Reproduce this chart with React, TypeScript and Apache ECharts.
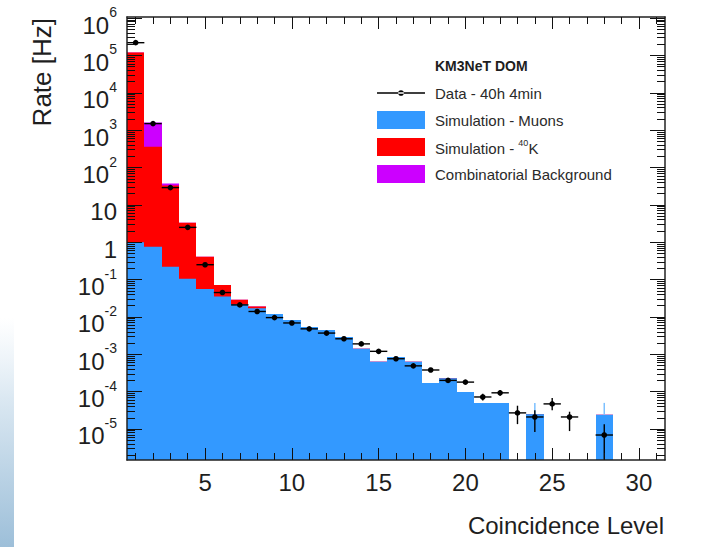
import React, { useEffect, useRef } from 'react';
import * as echarts from 'echarts';

// ---------- data ----------
const bins = [1, 2, 3, 4, 5, 6, 7, 8, 9, 10, 11, 12, 13, 14, 15, 16, 17, 18, 19, 20, 21, 22, 23, 24, 25, 26, 27, 28, 29, 30, 31];
const muonRate = [1.0, 0.76, 0.22, 0.105, 0.056, 0.035, 0.022, 0.017, 0.012, 0.0083, 0.0054, 0.0045, 0.0029, 0.0014, 0.00063, 0.00085, 0.00063, 0.00017, 0.00023, 0.000098, 0.00005, 0.00005, 0, 0.000025, 0, 0, 0, 0.000024, 0, 0, 0];
const k40Rate = [120000, 362, 33, 3.2, 0.35, 0.037, 0.007, 0.002, 0, 0, 0, 0, 0, 0, 0, 0, 0, 0, 0, 0, 0, 0, 0, 0, 0, 0, 0, 0, 0, 0, 0];
const combRate = [0, 1240, 4, 0, 0, 0, 0, 0, 0, 0, 0, 0, 0, 0, 0, 0, 0, 0, 0, 0, 0, 0, 0, 0, 0, 0, 0, 0, 0, 0, 0];
const muonErrHigh = [null, null, null, null, null, null, null, null, null, null, null, null, null, null, null, null, null, null, null, null, null, null, null, 0.00005, null, null, null, 0.00005, null, null, null];
const dataRate = [220000, 1500, 29, 2.5, 0.25, 0.045, 0.021, 0.014, 0.0096, 0.0069, 0.0048, 0.0037, 0.0026, 0.0019, 0.0012, 0.00076, 0.00049, 0.00038, 0.0002, 0.00018, 0.000072, 0.000093, 0.000027, 0.000021, 0.000047, 0.000021, null, 0.0000069, null, null, null];
const dataErrLow = [null, null, null, null, null, null, null, null, null, null, null, null, null, null, null, null, null, null, null, null, 0.000058, 0.000078, 0.0000135, 0.0000083, 0.000032, 0.0000088, null, 1e-8, null, null, null];
const dataErrHigh = [null, null, null, null, null, null, null, null, null, null, null, null, null, null, null, null, null, null, null, null, 0.000088, 0.00011, 0.000042, 0.000032, 0.000068, 0.000029, null, 0.0000135, null, null, null];

const xMajorTicks = [5, 10, 15, 20, 25, 30];
const xMinorTicks = bins;
const yDecadeExponents = [-5, -4, -3, -2, -1, 0, 1, 2, 3, 4, 5, 6];

const SERIES_DATA = 'Data - 40h 4min';
const SERIES_MUON = 'Simulation - Muons';
const SERIES_K40 = 'Simulation - 40K';
const SERIES_COMB = 'Combinatorial Background';

// ---------- layout / style ----------
const X_MIN = 0.5;
const X_MAX = 31.5;
const Y_MIN = -5.83;
const Y_MAX = 6.03;
const FONT = '"Liberation Sans", Arial, Helvetica, sans-serif';
const TXT = '#1e1e1e';
const C_MUON = '#3399ff';
const C_K40 = '#ff0000';
const C_COMB = '#cc00ff';

const lg = (v: number) => Math.log10(v);

const yMinorTicks: number[] = [];
for (let n = -6; n <= 6; n++) {
  for (let k = 2; k <= 9; k++) {
    const t = n + Math.log10(k);
    if (t > Y_MIN && t < Y_MAX) yMinorTicks.push(t);
  }
}

function App() {
  const ref = useRef<HTMLDivElement>(null);

  useEffect(() => {
    if (!ref.current) return;
    const chart = echarts.init(ref.current, null, { renderer: 'svg' });

    const redTop = bins.map((_, i) => muonRate[i] + k40Rate[i]);
    const purpleTop = bins.map((_, i) => redTop[i] + combRate[i]);

    const histData = (tops: number[], errs?: (number | null)[]) =>
      bins
        .map((b, i) => (tops[i] > 0 ? [b, lg(tops[i]), errs && errs[i] ? lg(errs[i] as number) : lg(tops[i])] : null))
        .filter((d) => d !== null);

    const histRender = (color: string) => (params: any, api: any) => {
      const x = api.value(0);
      const v = api.value(1);
      const e = api.value(2);
      const tl = api.coord([x - 0.5, v]);
      const br = api.coord([x + 0.5, Y_MIN]);
      const x0 = Math.round(tl[0]);
      const x1 = Math.round(br[0]);
      const children: any[] = [
        { type: 'rect', shape: { x: x0, y: tl[1], width: x1 - x0, height: br[1] - tl[1] }, style: { fill: color } },
      ];
      if (e > v) {
        const pe = api.coord([x, e]);
        const pc = api.coord([x, v]);
        children.push({ type: 'line', shape: { x1: pc[0], y1: pc[1], x2: pe[0], y2: pe[1] }, style: { stroke: '#7cc0ff', lineWidth: 1.5 } });
      }
      return { type: 'group', children };
    };

    const dataPoints = bins
      .map((b, i) =>
        dataRate[i] != null
          ? [
              b,
              lg(dataRate[i] as number),
              dataErrLow[i] != null ? lg(dataErrLow[i] as number) : lg(dataRate[i] as number),
              dataErrHigh[i] != null ? lg(dataErrHigh[i] as number) : lg(dataRate[i] as number),
            ]
          : null
      )
      .filter((d) => d !== null);

    const dataRender = (params: any, api: any) => {
      const x = api.value(0);
      const v = api.value(1);
      const lo = Math.max(api.value(2), Y_MIN);
      const hi = api.value(3);
      const c = api.coord([x, v]);
      const l = api.coord([x - 0.5, v]);
      const r = api.coord([x + 0.5, v]);
      const children: any[] = [
        { type: 'line', shape: { x1: l[0], y1: c[1], x2: r[0], y2: c[1] }, style: { stroke: '#000', lineWidth: 1.4 } },
      ];
      if (hi > lo) {
        const pl = api.coord([x, lo]);
        const ph = api.coord([x, hi]);
        children.push({ type: 'line', shape: { x1: c[0], y1: pl[1], x2: c[0], y2: ph[1] }, style: { stroke: '#000', lineWidth: 1.4 } });
      }
      children.push({ type: 'circle', shape: { cx: c[0], cy: c[1], r: 2.8 }, style: { fill: '#000' } });
      return { type: 'group', children };
    };

    const tickStyle = { color: '#111', width: 1 };
    const frameLine = { show: true, onZero: false, lineStyle: { color: '#222', width: 1.5 } };
    const noLine = { show: false, onZero: false };

    const xBase = { type: 'value', min: X_MIN, max: X_MAX, splitLine: { show: false }, z: 4 };
    const yBase = { type: 'value', min: Y_MIN, max: Y_MAX, splitLine: { show: false }, z: 4 };

    const yLabelFmt = (v: number) => {
      const n = Math.round(v);
      if (n === 0) return '{b|1}';
      if (n === 1) return '{b|10}';
      return '{b|10}{s|' + n + '}';
    };

    const DATA_ICON =
      'path://M0,8.3h48v1.4h-48Z M21.2,9a2.8,2.8 0 1,0 5.6,0a2.8,2.8 0 1,0 -5.6,0Z M0,0v0.01 M0,18v0.01';

    const option: any = {
      animation: false,
      backgroundColor: '#ffffff',
      grid: { left: 127, top: 17, width: 538, height: 443, containLabel: false, outerBoundsMode: 'none' },
      title: {
        text: 'KM3NeT DOM',
        left: 435,
        top: 59,
        padding: 0,
        textStyle: { fontFamily: FONT, fontSize: 14, fontWeight: 'bold', color: TXT },
      },
      legend: {
        orient: 'vertical',
        left: 377,
        top: 84,
        padding: 0,
        itemWidth: 48,
        itemHeight: 18,
        itemGap: 9,
        selectedMode: false,
        data: [
          { name: SERIES_DATA, icon: DATA_ICON },
          { name: SERIES_MUON, icon: 'rect' },
          { name: SERIES_K40, icon: 'rect' },
          { name: SERIES_COMB, icon: 'rect' },
        ],
        formatter: (name: string) => (name === SERIES_K40 ? '{n|Simulation - }{s|40}{n|K}' : name),
        textStyle: {
          fontFamily: FONT,
          fontSize: 15,
          color: '#2a2a2a',
          padding: [0, 0, 0, 5],
          rich: {
            n: { fontFamily: FONT, fontSize: 15, color: '#2a2a2a', lineHeight: 18, verticalAlign: 'bottom' },
            s: { fontFamily: FONT, fontSize: 9, color: '#2a2a2a', lineHeight: 10, verticalAlign: 'top' },
          },
        },
      },
      xAxis: [
        {
          ...xBase,
          position: 'bottom',
          axisLine: frameLine,
          axisTick: { show: true, inside: true, length: 12, customValues: xMajorTicks, lineStyle: tickStyle },
          axisLabel: { show: true, customValues: xMajorTicks, fontFamily: FONT, fontSize: 24, color: TXT, margin: 10 },
          name: 'Coincidence Level',
          nameLocation: 'end',
          nameGap: -1,
          nameMoveOverlap: false,
          nameTextStyle: { fontFamily: FONT, fontSize: 24, color: TXT, align: 'right', verticalAlign: 'top', padding: [53, 0, 0, 0] },
        },
        {
          ...xBase,
          position: 'bottom',
          axisLine: noLine,
          axisTick: { show: true, inside: true, length: 7, customValues: xMinorTicks, lineStyle: tickStyle },
          axisLabel: { show: false },
        },
        {
          ...xBase,
          position: 'top',
          axisLine: frameLine,
          axisTick: { show: true, inside: true, length: 12, customValues: xMajorTicks, lineStyle: tickStyle },
          axisLabel: { show: false },
        },
        {
          ...xBase,
          position: 'top',
          axisLine: noLine,
          axisTick: { show: true, inside: true, length: 7, customValues: xMinorTicks, lineStyle: tickStyle },
          axisLabel: { show: false },
        },
      ],
      yAxis: [
        {
          ...yBase,
          position: 'left',
          axisLine: frameLine,
          axisTick: { show: true, inside: true, length: 15, customValues: yDecadeExponents, lineStyle: tickStyle },
          axisLabel: {
            show: true,
            customValues: yDecadeExponents,
            formatter: yLabelFmt,
            margin: 10,
            padding: [6, 0, 0, 0],
            rich: {
              b: { fontFamily: FONT, fontSize: 24, color: TXT, lineHeight: 32, verticalAlign: 'bottom' },
              s: { fontFamily: FONT, fontSize: 14, color: TXT, lineHeight: 18, verticalAlign: 'top' },
            },
          },
          name: 'Rate [Hz]',
          nameLocation: 'end',
          nameGap: -1,
          nameRotate: 90,
          nameMoveOverlap: false,
          nameTextStyle: { fontFamily: FONT, fontSize: 26, color: TXT, align: 'right', verticalAlign: 'bottom', padding: [0, 0, 72, 0] },
        },
        {
          ...yBase,
          position: 'left',
          axisLine: noLine,
          axisTick: { show: true, inside: true, length: 8, customValues: yMinorTicks, lineStyle: tickStyle },
          axisLabel: { show: false },
        },
        {
          ...yBase,
          position: 'right',
          axisLine: frameLine,
          axisTick: { show: true, inside: true, length: 15, customValues: yDecadeExponents, lineStyle: tickStyle },
          axisLabel: { show: false },
        },
        {
          ...yBase,
          position: 'right',
          axisLine: noLine,
          axisTick: { show: true, inside: true, length: 8, customValues: yMinorTicks, lineStyle: tickStyle },
          axisLabel: { show: false },
        },
      ],
      graphic: [
        {
          type: 'rect',
          silent: true,
          z: -10,
          shape: { x: 0, y: 318, width: 14, height: 229 },
          style: {
            fill: new echarts.graphic.LinearGradient(0, 0, 0, 1, [
              { offset: 0, color: 'rgba(225,236,245,0)' },
              { offset: 0.35, color: '#dbe8f2' },
              { offset: 1, color: '#9dbfd9' },
            ]),
          },
        },
      ],
      series: [
        {
          type: 'custom',
          name: SERIES_COMB,
          xAxisIndex: 0,
          yAxisIndex: 0,
          itemStyle: { color: C_COMB },
          encode: { x: 0, y: 1 },
          clip: true,
          z: 2,
          renderItem: histRender(C_COMB),
          data: histData(purpleTop),
        },
        {
          type: 'custom',
          name: SERIES_K40,
          xAxisIndex: 0,
          yAxisIndex: 0,
          itemStyle: { color: C_K40 },
          encode: { x: 0, y: 1 },
          clip: true,
          z: 2,
          renderItem: histRender(C_K40),
          data: histData(redTop),
        },
        {
          type: 'custom',
          name: SERIES_MUON,
          xAxisIndex: 0,
          yAxisIndex: 0,
          itemStyle: { color: C_MUON },
          encode: { x: 0, y: 1 },
          clip: true,
          z: 2,
          renderItem: histRender(C_MUON),
          data: histData(muonRate, muonErrHigh),
        },
        {
          type: 'custom',
          name: SERIES_DATA,
          xAxisIndex: 0,
          yAxisIndex: 0,
          itemStyle: { color: '#000' },
          encode: { x: 0, y: 1 },
          clip: true,
          z: 3,
          renderItem: dataRender,
          data: dataPoints,
        },
      ],
    };

    chart.setOption(option);
    return () => chart.dispose();
  }, []);

  return (
    <div
      ref={ref}
      style={{ position: 'fixed', left: 0, top: 0, width: 712, height: 547, background: '#fff' }}
    />
  );
}

export default App;
